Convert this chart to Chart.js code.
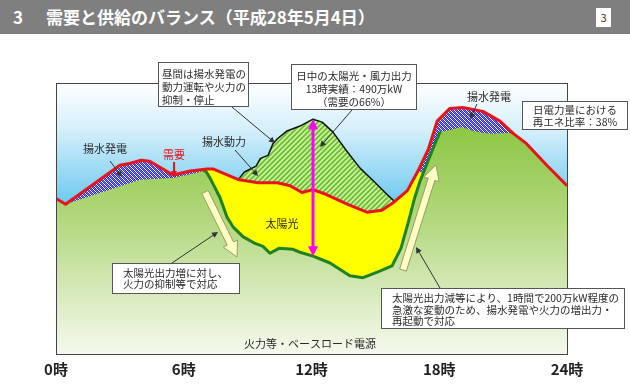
<!DOCTYPE html>
<html><head><meta charset="utf-8">
<script src="https://cdn.jsdelivr.net/npm/chart.js@4.4.1/dist/chart.umd.min.js"></script>
<style>
html,body{margin:0;padding:0;background:#fff;}
#wrap{position:relative;width:630px;height:389px;overflow:hidden;}
#banner{position:absolute;left:0;top:0;width:630px;height:34px;background:#7f7f7f;color:#fff;font:bold 17px "Noto Sans CJK JP",sans-serif;line-height:34px;white-space:nowrap;}
#banner .n{position:absolute;left:13px;}
#banner .t{position:absolute;left:46px;}
#page{position:absolute;left:596px;top:8px;width:15px;height:19px;background:#fff;color:#333;font:11px "Noto Sans CJK JP",sans-serif;line-height:19px;text-align:center;}
canvas{position:absolute;left:0;top:0;}
</style></head>
<body><div id="wrap">
<canvas id="c" width="630" height="389"></canvas>
<div id="banner"><span class="n">3</span><span class="t">需要と供給のバランス（平成28年5月4日）</span><div id="page">3</div></div>
</div>
<script>
// ---- data (hours, arbitrary supply level) ----
const demandHours  = [0,0.45,3.0,3.5,4.0,4.4,5.5,6.3,7.1,7.4,8.6,9.5,10.4,11.0,11.55,12.07,12.7,13.7,14.6,15.3,15.8,16.5,17.0,17.5,17.9,18.5,19.1,20.05,20.85,21.5,22.1,23.05,24];
const demandValues = [159,153,193,195,198,197,183,187,189,189,178,175,175,172,165,168,163,153,145,147,154,167,187,210,238,251,252,248,238,225,215,193,172];
const baseHours  = [0,0.45,3.95,5.5,6.6,6.9,7.0,7.23,7.7,8.03,8.31,8.78,9.35,9.72,10.05,10.47,11.13,11.46,12.07,12.87,13.8,14.42,15.12,15.78,16.2,16.55,16.85,17.1,17.47,17.8,18.04,18.5,19.07,19.6,20.05,20.5,21.2,21.5,22.1,23.05,24];
const baseValues = [159,153,178,180,185,187,188,180,160,140,130,120,113,110,103,108,107,104,100,93,80,78,84,90,108,135,160,177,197,215,227,229,232,228,226,225,226,225,215,193,172];
const pumpHours  = [8.55,8.85,9.4,9.6,9.96,10.19,10.4,10.85,11.46,12.07,12.5,13.0,13.67,14.28,14.9,15.55,15.95];
const pumpValues = [178,186,192,200,203,215,220,228,233,240,237,227,207,190,177,163,155];
const solarEdgeHours  = [7.0,17.25];
const solarEdgeValues = [188,185];
const rampHours = [6.9,18.04];   // span of the dark green edge of base supply
const tickHours  = [0,6,12,18,24];
const tickLabels = ['0時','6時','12時','18時','24時'];
const seriesNames = ['需要','火力等・ベースロード電源','太陽光','揚水発電','揚水動力'];

const pts = (hs, vs) => hs.map((h, i) => ({x: h, y: vs[i]}));
const demandPts = pts(demandHours, demandValues);
const basePts = pts(baseHours, baseValues);
const pumpPts = pts(pumpHours, pumpValues);
const rampPts = basePts.filter(p => p.x >= rampHours[0] && p.x <= rampHours[1]);
const solarPts = [{x: solarEdgeHours[0], y: solarEdgeValues[0]}]
  .concat(demandPts.filter(p => p.x > solarEdgeHours[0] && p.x < solarEdgeHours[1]))
  .concat([{x: solarEdgeHours[1], y: solarEdgeValues[1]}]);

function interp(hs, vs, h){
  for (let i = 0; i < hs.length - 1; i++) {
    if (h >= hs[i] && h <= hs[i+1]) { const t = (h - hs[i]) / (hs[i+1] - hs[i]); return vs[i] + t * (vs[i+1] - vs[i]); }
  }
  return vs[vs.length - 1];
}

// ---- patterns / gradients ----
function bluePattern(){
  const c = document.createElement('canvas'); c.width = 4; c.height = 4;
  const g = c.getContext('2d');
  g.fillStyle = '#2c2cc8'; g.fillRect(0,0,4,4);
  g.fillStyle = '#ffffff';
  for (let i = 0; i < 4; i++) g.fillRect(i, i, 1, 1);
  g.fillStyle = '#7a7ae8';
  for (let i = 0; i < 4; i++) g.fillRect((i+2)%4, i, 1, 1);
  return g.createPattern(c, 'repeat');
}
function stripePattern(){
  const c = document.createElement('canvas'); c.width = 5; c.height = 5;
  const g = c.getContext('2d');
  g.fillStyle = '#cdf394'; g.fillRect(0,0,5,5);
  g.strokeStyle = '#6abd3c'; g.lineWidth = 1.8;
  g.beginPath();
  g.moveTo(-1,6); g.lineTo(6,-1);
  g.moveTo(-4,4); g.lineTo(4,-4);
  g.moveTo(1,9); g.lineTo(9,1);
  g.stroke();
  return g.createPattern(c, 'repeat');
}
function greenFill(ctx){
  const ca = ctx.chart.chartArea;
  if (!ca) return '#a8d26a';
  const gr = ctx.chart.ctx.createLinearGradient(0, ca.top + 20, 0, ca.bottom);
  gr.addColorStop(0, '#84c236');
  gr.addColorStop(0.45, '#b0d77a');
  gr.addColorStop(1, '#f5f9ee');
  return gr;
}

const notes = {
  font: '10.5px "Noto Sans CJK JP", sans-serif',
  labelFont: '11px "Noto Sans CJK JP", sans-serif',
  textColor: '#2a2a2a',
  boxes: [
    {x:158, y:62, w:90, h:44, align:'left', tx:162, ty:[74,87,100], lines:['昼間は揚水発電の','動力運転や火力の','抑制・停止']},
    {x:291, y:64, w:125, h:45, align:'center', tx:354, ty:[76,89,102], lines:['日中の太陽光・風力出力','13時実績：490万kW','（需要の66%）']},
    {x:522, y:101, w:105, h:28, align:'center', tx:575, ty:[110,122], lines:['日電力量における','再エネ比率：38%']},
    {x:112, y:263, w:127, h:30, align:'left', tx:123, ty:[273,284], lines:['太陽光出力増に対し、','火力の抑制等で対応']},
    {x:381, y:288, w:243, h:40, align:'left', tx:392, ty:[298,310,321], lines:['太陽光出力減等により、1時間で200万kW程度の','急激な変動のため、揚水発電や火力の増出力・','再起動で対応']}
  ],
  labels: [
    {text:'揚水発電', x:105, y:149, color:'#2a2a2a'},
    {text:'需要', x:174, y:155, color:'#e8141c'},
    {text:'揚水動力', x:224, y:142, color:'#2a2a2a'},
    {text:'揚水発電', x:489, y:97, color:'#2a2a2a'},
    {text:'太陽光', x:282, y:224, color:'#2a2a2a'},
    {text:'火力等・ベースロード電源', x:310, y:344, color:'#2a2a2a'}
  ],
  arrows: [
    {x1:232, y1:107, x2:275, y2:143, color:'#333', w:1},
    {x1:352, y1:110, x2:320, y2:147, color:'#333', w:1},
    {x1:110, y1:161, x2:122, y2:177, color:'#333', w:1},
    {x1:174, y1:162, x2:174, y2:177, color:'#e8141c', w:2},
    {x1:235, y1:150, x2:258, y2:176, color:'#333', w:1},
    {x1:477, y1:104, x2:470, y2:119, color:'#333', w:1},
    {x1:172, y1:263, x2:218, y2:232, color:'#333', w:1},
    {x1:440, y1:288, x2:416, y2:247, color:'#333', w:1}
  ],
  blocks: [
    {x1:205, y1:192, x2:237, y2:257},
    {x1:403, y1:270, x2:436, y2:165}
  ]
};

function arrowLine(g, a){
  const dx = a.x2 - a.x1, dy = a.y2 - a.y1, L = Math.hypot(dx, dy), ux = dx / L, uy = dy / L;
  const hl = 6, hw = 3;
  g.strokeStyle = a.color; g.fillStyle = a.color; g.lineWidth = a.w;
  g.beginPath(); g.moveTo(a.x1, a.y1); g.lineTo(a.x2 - ux * hl * 0.8, a.y2 - uy * hl * 0.8); g.stroke();
  g.beginPath();
  g.moveTo(a.x2, a.y2);
  g.lineTo(a.x2 - ux * hl - uy * hw, a.y2 - uy * hl + ux * hw);
  g.lineTo(a.x2 - ux * hl + uy * hw, a.y2 - uy * hl - ux * hw);
  g.closePath(); g.fill();
}
function blockArrow(g, b){
  const dx = b.x2 - b.x1, dy = b.y2 - b.y1, L = Math.hypot(dx, dy), ux = dx / L, uy = dy / L;
  const px = -uy, py = ux, sw = 3.5, hw = 8, hl = 15;
  const nx = b.x2 - ux * hl, ny = b.y2 - uy * hl;
  g.beginPath();
  g.moveTo(b.x1 + px * sw, b.y1 + py * sw);
  g.lineTo(nx + px * sw, ny + py * sw);
  g.lineTo(nx + px * hw, ny + py * hw);
  g.lineTo(b.x2, b.y2);
  g.lineTo(nx - px * hw, ny - py * hw);
  g.lineTo(nx - px * sw, ny - py * sw);
  g.lineTo(b.x1 - px * sw, b.y1 - py * sw);
  g.closePath();
  g.fillStyle = '#ffffc4'; g.fill();
  g.strokeStyle = '#9c9a6a'; g.lineWidth = 1; g.stroke();
}

const decor = {
  id: 'decor',
  beforeDatasetsDraw(chart){
    const g = chart.ctx, ca = chart.chartArea;
    g.save();
    const gr = g.createLinearGradient(0, ca.top, 0, ca.top + 135);
    gr.addColorStop(0, '#ffffff');
    gr.addColorStop(0.35, '#d4effb');
    gr.addColorStop(1, '#58c1ee');
    g.fillStyle = gr;
    g.fillRect(ca.left, ca.top, ca.right - ca.left, ca.bottom - ca.top);
    g.restore();
  },
  afterDatasetsDraw(chart){
    const g = chart.ctx, ca = chart.chartArea, xs = chart.scales.x, ys = chart.scales.y;
    g.save();
    // magenta double arrow at the pumping-line peak
    let pk = 0; pumpValues.forEach((v, i) => { if (v > pumpValues[pk]) pk = i; });
    const mx = xs.getPixelForValue(pumpHours[pk]);
    const yTop = ys.getPixelForValue(pumpValues[pk]);
    const yBot = ys.getPixelForValue(interp(baseHours, baseValues, pumpHours[pk]));
    g.strokeStyle = '#ff00ff'; g.fillStyle = '#ff00ff'; g.lineWidth = 3;
    g.beginPath(); g.moveTo(mx, yTop + 8); g.lineTo(mx, yBot - 8); g.stroke();
    g.beginPath(); g.moveTo(mx, yTop); g.lineTo(mx - 5, yTop + 10); g.lineTo(mx + 5, yTop + 10); g.closePath(); g.fill();
    g.beginPath(); g.moveTo(mx, yBot); g.lineTo(mx - 5, yBot - 10); g.lineTo(mx + 5, yBot - 10); g.closePath(); g.fill();
    // plot frame
    g.strokeStyle = '#444'; g.lineWidth = 1;
    g.strokeRect(Math.round(ca.left) + 0.5, Math.round(ca.top) + 0.5, Math.round(ca.right - ca.left), Math.round(ca.bottom - ca.top));
    notes.blocks.forEach(b => blockArrow(g, b));
    notes.arrows.forEach(a => arrowLine(g, a));
    g.font = notes.labelFont; g.textAlign = 'center'; g.textBaseline = 'middle';
    notes.labels.forEach(l => { g.fillStyle = l.color; g.fillText(l.text, l.x, l.y); });
    notes.boxes.forEach(b => {
      g.fillStyle = '#ffffff'; g.fillRect(b.x, b.y, b.w, b.h);
      g.strokeStyle = '#555'; g.lineWidth = 1; g.strokeRect(b.x + 0.5, b.y + 0.5, b.w, b.h);
      g.fillStyle = notes.textColor; g.font = notes.font; g.textAlign = b.align; g.textBaseline = 'middle';
      b.lines.forEach((t, i) => g.fillText(t, b.tx, b.ty[i]));
    });
    g.restore();
  }
};

new Chart(document.getElementById('c'), {
  type: 'line',
  data: {
    datasets: [
      {label: seriesNames[0], data: demandPts, borderColor: '#e8141c', borderWidth: 3, fill: false, order: 0},
      {label: seriesNames[1] + ' edge', data: rampPts, borderColor: '#1f821f', borderWidth: 3, fill: false, order: 1},
      {label: seriesNames[1], data: basePts, fill: 'origin', backgroundColor: greenFill, borderWidth: 0, borderColor: 'rgba(0,0,0,0)', order: 2},
      {label: seriesNames[2], data: solarPts, fill: 'origin', backgroundColor: '#ffff00', borderWidth: 0, order: 3},
      {label: seriesNames[3], data: demandPts, fill: 'origin', backgroundColor: bluePattern(), borderWidth: 0, order: 4},
      {label: seriesNames[4], data: pumpPts, fill: 'origin', backgroundColor: stripePattern(), borderColor: '#111', borderWidth: 1.5, order: 5}
    ]
  },
  options: {
    responsive: false,
    animation: false,
    events: [],
    layout: {padding: {left: 56, right: 63, top: 83, bottom: 5}},
    elements: {point: {radius: 0}, line: {tension: 0, borderJoinStyle: 'round'}},
    plugins: {legend: {display: false}, tooltip: {enabled: false}, title: {display: false}},
    scales: {
      x: {
        type: 'linear', min: 0, max: 24,
        grid: {display: false, drawTicks: false},
        border: {display: false},
        afterBuildTicks: ax => { ax.ticks = tickHours.map(v => ({value: v})); },
        ticks: {
          padding: 6, color: '#222', maxRotation: 0, autoSkip: false,
          font: {family: '"Noto Sans CJK JP", sans-serif', size: 15, weight: 'bold'},
          callback: v => tickLabels[tickHours.indexOf(v)]
        }
      },
      y: {display: false, min: 0, max: 277}
    }
  },
  plugins: [decor]
});
</script>
</body></html>
